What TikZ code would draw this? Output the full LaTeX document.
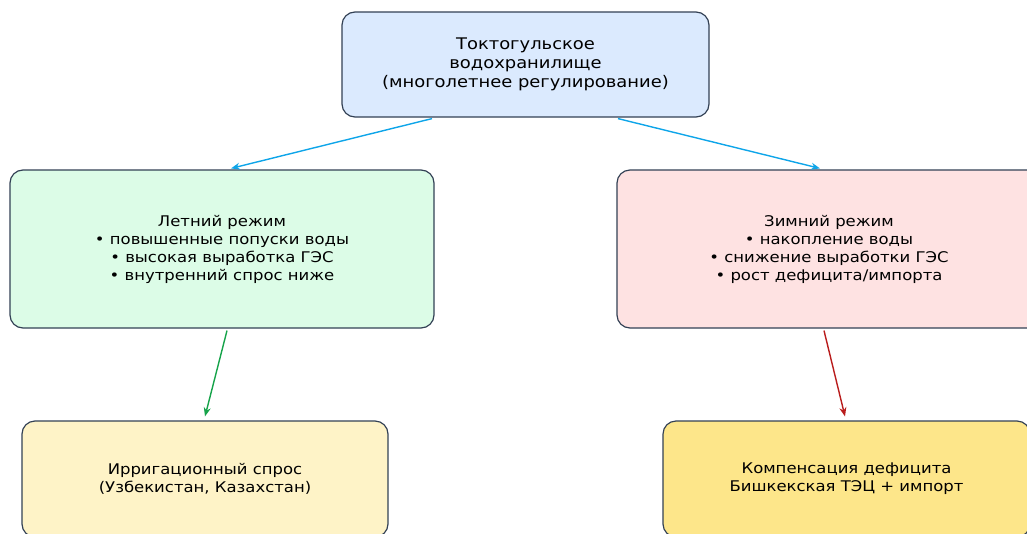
\documentclass[tikz,border=0pt]{standalone}
\usepackage{fontspec}
\setmainfont{DejaVu Sans}[FakeStretch=1.12]
\usetikzlibrary{arrows.meta,calc}
\definecolor{bordc}{HTML}{334155}
\definecolor{topf}{HTML}{DBEAFE}
\definecolor{sumf}{HTML}{DCFCE7}
\definecolor{winf}{HTML}{FEE2E2}
\definecolor{irrf}{HTML}{FEF3C7}
\definecolor{comf}{HTML}{FDE68A}
\definecolor{blueln}{HTML}{0EA5E9}
\definecolor{greenln}{HTML}{16A34A}
\definecolor{redln}{HTML}{B91C1C}
\tikzset{
  box/.style={draw=bordc, line width=1.2pt, rounded corners=13pt, align=center,
    inner sep=0pt, font=\fontsize{14.7}{18}\selectfont},
  bigtext/.style={font=\fontsize{16}{18.7}\selectfont},
  conn/.style={line width=1.4pt, -{Stealth[length=9pt,width=7pt]}}
}
\begin{document}
\begin{tikzpicture}[x=1pt,y=-1pt]
\useasboundingbox (0,0) rectangle (1027,533);
\node[box, bigtext, fill=topf, minimum width=367pt, minimum height=105pt] (top) at (525.5,64.5)
  {Токтогульское\\водохранилище\\(многолетнее регулирование)};
\node[box, fill=sumf, minimum width=424pt, minimum height=158pt] (sum) at (222,249)
  {Летний режим\\• повышенные попуски воды\\• высокая выработка ГЭС\\• внутренний спрос ниже};
\node[box, fill=winf, minimum width=424pt, minimum height=158pt] (win) at (829,249)
  {Зимний режим\\• накопление воды\\• снижение выработки ГЭС\\• рост дефицита/импорта};
\node[box, fill=irrf, minimum width=366pt, minimum height=116pt] (irr) at (205,479)
  {Ирригационный спрос\\(Узбекистан, Казахстан)};
\node[box, fill=comf, minimum width=367pt, minimum height=116pt] (com) at (846.5,479)
  {Компенсация дефицита\\Бишкекская ТЭЦ + импорт};
\draw[conn, blueln] ($(top.south)+(-93.5,1)$) -- ($(sum.north)+(9,-1)$);
\draw[conn, blueln] ($(top.south)+(92.5,1)$) -- ($(win.north)+(-9,-1)$);
\draw[conn, greenln] ($(sum.south)+(5,2)$) -- ($(irr.north)+(0,-4)$);
\draw[conn, redln] ($(win.south)+(-5,2)$) -- ($(com.north)+(-1.5,-4)$);
\end{tikzpicture}
\end{document}
